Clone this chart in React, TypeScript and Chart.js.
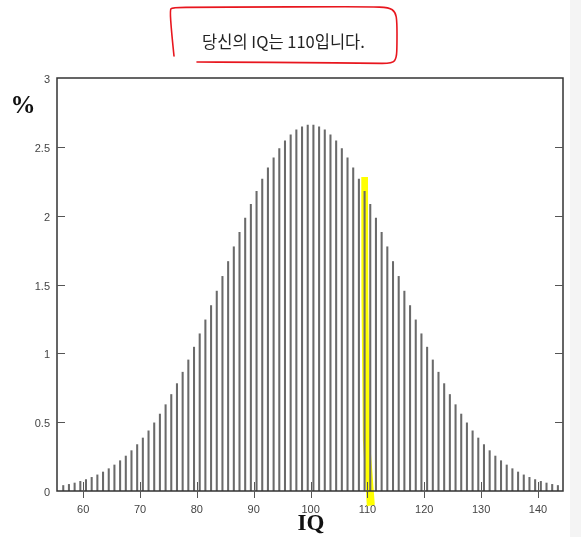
import React, { useEffect, useRef } from "react";
import { Chart, registerables } from "chart.js";

Chart.register(...registerables);

const TITLE = "당신의 IQ는 110입니다.";
const X_LABEL = "IQ";
const Y_LABEL = "%";

const IQ_SCORES = [
  56.5, 57.5, 58.5, 59.5, 60.5, 61.5, 62.5, 63.5, 64.5, 65.5,
  66.5, 67.5, 68.5, 69.5, 70.5, 71.5, 72.5, 73.5, 74.5, 75.5,
  76.5, 77.5, 78.5, 79.5, 80.5, 81.5, 82.5, 83.5, 84.5, 85.5,
  86.5, 87.5, 88.5, 89.5, 90.5, 91.5, 92.5, 93.5, 94.5, 95.5,
  96.5, 97.5, 98.5, 99.5,
  100.5, 101.5, 102.5, 103.5, 104.5, 105.5, 106.5, 107.5, 108.5, 109.5,
  110.5, 111.5, 112.5, 113.5, 114.5, 115.5, 116.5, 117.5, 118.5, 119.5,
  120.5, 121.5, 122.5, 123.5, 124.5, 125.5, 126.5, 127.5, 128.5, 129.5,
  130.5, 131.5, 132.5, 133.5, 134.5, 135.5, 136.5, 137.5, 138.5, 139.5,
  140.5, 141.5, 142.5, 143.5,
];

const PERCENT = [
  0.040, 0.048, 0.058, 0.070, 0.083, 0.099, 0.117, 0.138, 0.162, 0.189,
  0.220, 0.254, 0.293, 0.337, 0.385, 0.437, 0.495, 0.559, 0.627, 0.701,
  0.780, 0.863, 0.952, 1.045, 1.142, 1.243, 1.347, 1.452, 1.559, 1.667,
  1.774, 1.879, 1.982, 2.082, 2.176, 2.265, 2.347, 2.421, 2.487, 2.543,
  2.588, 2.623, 2.646, 2.658,
  2.658, 2.646, 2.623, 2.588, 2.543, 2.487, 2.421, 2.347, 2.265, 2.176,
  2.082, 1.982, 1.879, 1.774, 1.667, 1.559, 1.452, 1.347, 1.243, 1.142,
  1.045, 0.952, 0.863, 0.780, 0.701, 0.627, 0.559, 0.495, 0.437, 0.385,
  0.337, 0.293, 0.254, 0.220, 0.189, 0.162, 0.138, 0.117, 0.099, 0.083,
  0.070, 0.058, 0.048, 0.040,
];

const X_TICKS = [60, 70, 80, 90, 100, 110, 120, 130, 140];
const Y_TICKS = [0, 0.5, 1, 1.5, 2, 2.5, 3];
const X_MIN = 55.4;
const X_MAX = 144.4;
const Y_MIN = 0;
const Y_MAX = 3;

// hand-drawn yellow highlight around IQ 110, in data units [iq, percent]
const HIGHLIGHT = [
  [108.92, 2.28], [110.1, 2.28], [110.15, 1.4], [110.45, 0.37], [111.3, -0.1],
  [109.9, -0.11], [109.2, 0.37], [108.95, 1.4],
];

// hand-drawn red outline around the title (decoration, canvas pixels)
const RED_OUTLINE = [
  [174, 56], [171.5, 32], [170, 10], [172, 7.5], [200, 7.2], [260, 7], [320, 6.8],
  [370, 6.8], [389, 7.5], [395.5, 12], [397, 22], [397, 45], [396.5, 58],
  [392.5, 63.5], [370, 63.2], [300, 62.6], [240, 62.2], [197, 62],
];

const TICK_FONT = { family: "'Liberation Sans', Arial, sans-serif", size: 11 };

const decorPlugin = {
  id: "decor",
  beforeDraw(chart: any) {
    const ctx = chart.ctx;
    ctx.save();
    ctx.fillStyle = "#ffffff";
    ctx.fillRect(0, 0, chart.width, chart.height);
    ctx.fillStyle = "#f4f4f4";
    ctx.fillRect(570, 0, chart.width - 570, chart.height);
    ctx.restore();
  },
  beforeDatasetsDraw(chart: any) {
    const ctx = chart.ctx;
    const xs = chart.scales.x;
    const ys = chart.scales.y;
    ctx.save();
    ctx.fillStyle = "#ffff00";
    ctx.beginPath();
    HIGHLIGHT.forEach(([vx, vy], i) => {
      const px = xs.getPixelForValue(vx);
      const py = ys.getPixelForValue(vy);
      if (i === 0) ctx.moveTo(px, py);
      else ctx.lineTo(px, py);
    });
    ctx.closePath();
    ctx.fill();
    ctx.restore();
  },
  afterDatasetsDraw(chart: any) {
    const ctx = chart.ctx;
    const { left, right, top, bottom } = chart.chartArea;
    const xs = chart.scales.x;
    const ys = chart.scales.y;
    ctx.save();
    ctx.strokeStyle = "#333333";
    ctx.lineWidth = 1.5;
    ctx.strokeRect(left, top, right - left, bottom - top);
    ctx.lineWidth = 1;
    ctx.strokeStyle = "#555555";
    ctx.beginPath();
    X_TICKS.forEach((v) => {
      const px = Math.round(xs.getPixelForValue(v)) + 0.5;
      ctx.moveTo(px, bottom - 9);
      ctx.lineTo(px, bottom + 7);
    });
    Y_TICKS.forEach((v) => {
      if (v === Y_MIN || v === Y_MAX) return;
      const py = Math.round(ys.getPixelForValue(v)) + 0.5;
      ctx.moveTo(left, py);
      ctx.lineTo(left + 8, py);
      ctx.moveTo(right - 8, py);
      ctx.lineTo(right, py);
    });
    ctx.stroke();
    ctx.restore();
  },
  afterDraw(chart: any) {
    const ctx = chart.ctx;
    ctx.save();
    ctx.strokeStyle = "#e8161e";
    ctx.lineWidth = 1.6;
    ctx.lineJoin = "round";
    ctx.lineCap = "round";
    ctx.beginPath();
    const pts = RED_OUTLINE;
    ctx.moveTo(pts[0][0], pts[0][1]);
    for (let i = 1; i < pts.length - 1; i++) {
      const mx = (pts[i][0] + pts[i + 1][0]) / 2;
      const my = (pts[i][1] + pts[i + 1][1]) / 2;
      ctx.quadraticCurveTo(pts[i][0], pts[i][1], mx, my);
    }
    const last = pts[pts.length - 1];
    ctx.lineTo(last[0], last[1]);
    ctx.stroke();
    ctx.restore();
  },
};

export default function App() {
  const canvasRef = useRef<HTMLCanvasElement | null>(null);

  useEffect(() => {
    const canvas = canvasRef.current;
    if (!canvas) return;
    const chart = new Chart(canvas, {
      type: "bar",
      data: {
        datasets: [
          {
            data: IQ_SCORES.map((x, i) => ({ x, y: PERCENT[i] })) as any,
            backgroundColor: "#6a6a6a",
            borderWidth: 0,
            barThickness: 1.4,
          } as any,
        ],
      },
      options: {
        responsive: false,
        animation: false,
        devicePixelRatio: 1,
        layout: { padding: { top: 78, right: 18, left: 0, bottom: 0 } },
        plugins: {
          legend: { display: false },
          tooltip: { enabled: false },
          title: { display: false },
        },
        scales: {
          x: {
            type: "linear",
            min: X_MIN,
            max: X_MAX,
            offset: false,
            grid: { display: false, drawTicks: false },
            border: { display: false },
            afterBuildTicks: (s: any) => {
              s.ticks = X_TICKS.map((v) => ({ value: v }));
            },
            afterFit: (s: any) => {
              s.height = 46;
            },
            ticks: {
              padding: 12,
              font: TICK_FONT,
              color: "#444444",
              maxRotation: 0,
              autoSkip: false,
              callback: (v: any) => String(v),
            },
          },
          y: {
            type: "linear",
            min: Y_MIN,
            max: Y_MAX,
            grid: { display: false, drawTicks: false },
            border: { display: false },
            afterBuildTicks: (s: any) => {
              s.ticks = Y_TICKS.map((v) => ({ value: v }));
            },
            afterFit: (s: any) => {
              s.width = 57;
            },
            ticks: {
              padding: 7,
              labelOffset: 2,
              font: TICK_FONT,
              color: "#444444",
              callback: (v: any) => String(v),
            },
          },
        } as any,
      },
      plugins: [decorPlugin],
    } as any);
    return () => chart.destroy();
  }, []);

  return (
    <div
      style={{
        position: "fixed",
        left: 0,
        top: 0,
        width: 581,
        height: 537,
        overflow: "hidden",
        background: "#ffffff",
      }}
    >
      <canvas ref={canvasRef} width={581} height={537} style={{ display: "block" }} />
      <div
        style={{
          position: "absolute",
          left: 170,
          top: 31,
          width: 227,
          height: 20,
          lineHeight: "20px",
          textAlign: "center",
          fontFamily: "'Noto Sans CJK KR', sans-serif",
          fontSize: 16.5,
          color: "#222222",
          whiteSpace: "nowrap",
        }}
      >
        {TITLE}
      </div>
      <div
        style={{
          position: "absolute",
          left: 0,
          top: 90,
          width: 46,
          height: 30,
          lineHeight: "30px",
          textAlign: "center",
          fontFamily: "'Liberation Serif', 'DejaVu Serif', serif",
          fontWeight: "bold",
          fontSize: 25,
          color: "#111111",
        }}
      >
        {Y_LABEL}
      </div>
      <div
        style={{
          position: "absolute",
          left: 261,
          top: 508,
          width: 100,
          height: 30,
          lineHeight: "30px",
          textAlign: "center",
          fontFamily: "'Liberation Serif', 'DejaVu Serif', serif",
          fontWeight: "bold",
          fontSize: 23,
          color: "#111111",
        }}
      >
        {X_LABEL}
      </div>
    </div>
  );
}
